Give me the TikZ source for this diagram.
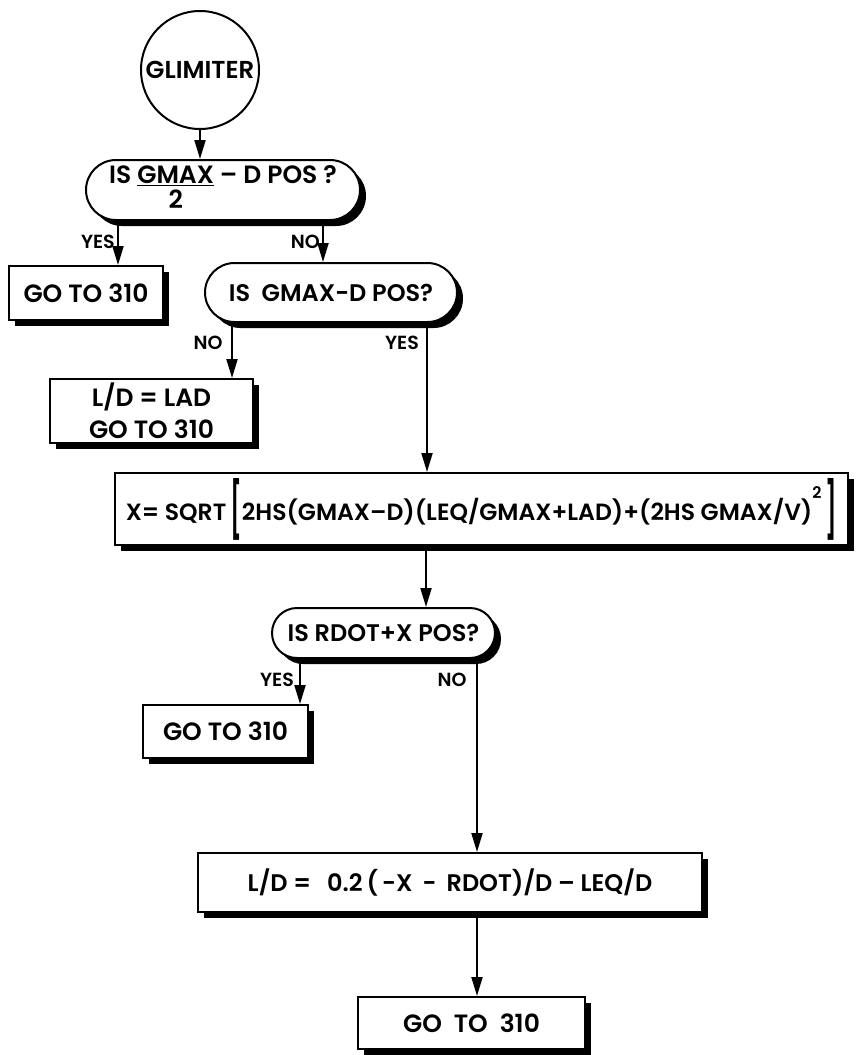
\documentclass[tikz,border=0pt]{standalone}
\usepackage{fontspec}
\usepackage{graphicx}
\setmainfont{Poppins SemiBold}
\usetikzlibrary{arrows.meta,shapes.misc,shadows}
\newcommand{\tallbr}[1]{\raisebox{-0.36em}{\scalebox{1.0}[2.35]{#1}}}
\begin{document}
\begin{tikzpicture}[x=1pt,y=-1pt,
  txt/.style={font=\fontsize{25}{32}\selectfont},
  box/.style={txt, draw, line width=2pt, fill=white, rectangle, inner sep=0pt,
    drop shadow={shadow xshift=6pt, shadow yshift=-6pt, fill=black, opacity=1}},
  dec/.style={box, rounded rectangle},
  arr/.style={line width=2pt, -{Triangle[length=19pt,width=11pt]}},
  lbl/.style={font=\fontsize{19}{22}\selectfont, inner sep=0pt}]
\useasboundingbox (0,0) rectangle (858,1055);

% nodes
\node[txt, draw, circle, line width=2pt, minimum size=118pt, inner sep=0pt, font=\fontsize{24.5}{28}\selectfont] (start) at (200,70) {GLIMITER};
\node[dec, minimum width=274pt, minimum height=60pt] (d1) at (223,190)
  {IS\ \begin{tabular}[t]{@{}c@{}}\underline{GMAX}\\[-7pt]2\end{tabular}\ -- D POS ?};
\node[box, minimum width=154pt, minimum height=54pt] (g1) at (86,293) {GO TO 310};
\node[dec, minimum width=252pt, minimum height=59pt, font=\fontsize{24}{30}\selectfont] (d2) at (331,292.5) {IS\ \ GMAX-D POS?};
\node[box, minimum width=203pt, minimum height=64pt, align=center] (lad) at (151.5,411) {L/D\ =\ LAD\\GO TO 310};
\node[box, minimum width=733pt, minimum height=72pt, font=\fontsize{23.5}{30}\selectfont] (xbox) at (481.5,509)
  {X=\ SQRT\,\tallbr{[}2HS(GMAX--D)(LEQ/GMAX+LAD)+(2HS GMAX/V)\raisebox{0.95em}{\fontsize{16}{16}\selectfont 2}\,\tallbr{]}};
\node[dec, minimum width=223pt, minimum height=50pt, font=\fontsize{24}{30}\selectfont] (d3) at (383.5,633) {IS RDOT+X POS?};
\node[box, minimum width=165pt, minimum height=53pt] (g2) at (225.5,731.5) {GO TO 310\hspace{10pt}};
\node[box, minimum width=504pt, minimum height=59pt, font=\fontsize{24}{30}\selectfont] (ld2) at (450,882.5)
  {L/D =\hspace{16pt}0.2\,(\,-X\hspace{10pt}-\hspace{10pt}RDOT)/D -- LEQ/D};
\node[box, minimum width=227pt, minimum height=52pt] (fin) at (471.5,1023) {GO\ \ TO\ \ 310};

% branch columns
\coordinate (xa) at (118,0);
\coordinate (xb) at (323,0);
\coordinate (xc) at (232,0);
\coordinate (xd) at (427,0);
\coordinate (xe) at (426,0);
\coordinate (xf) at (300,0);
\coordinate (xg) at (477,0);

% connectors
\draw[arr] (start.south) -- (start.south |- d1.north);
\draw[arr] (d1.south -| xa) -- (g1.north -| xa);
\draw[arr] (d1.south -| xb) -- (d2.north -| xb);
\draw[arr] (d2.south -| xc) -- (lad.north -| xc);
\draw[arr] (d2.south -| xd) -- (xbox.north -| xd);
\draw[arr] (xbox.south -| xe) -- (d3.north -| xe);
\draw[arr] (d3.south -| xf) -- (g2.north -| xf);
\draw[arr] (d3.south -| xg) -- (ld2.north -| xg);
\draw[arr] (ld2.south -| xg) -- (fin.north -| xg);

% labels
\node[lbl, anchor=east] (l1) at (115,242) {YES};
\node[lbl, anchor=east] (l2) at (320,242) {NO};
\node[lbl] (l3) at (208,343) {NO};
\node[lbl] (l4) at (402,343) {YES};
\node[lbl] (l5) at (277,680) {YES};
\node[lbl] (l6) at (452,680) {NO};
\end{tikzpicture}
\end{document}
